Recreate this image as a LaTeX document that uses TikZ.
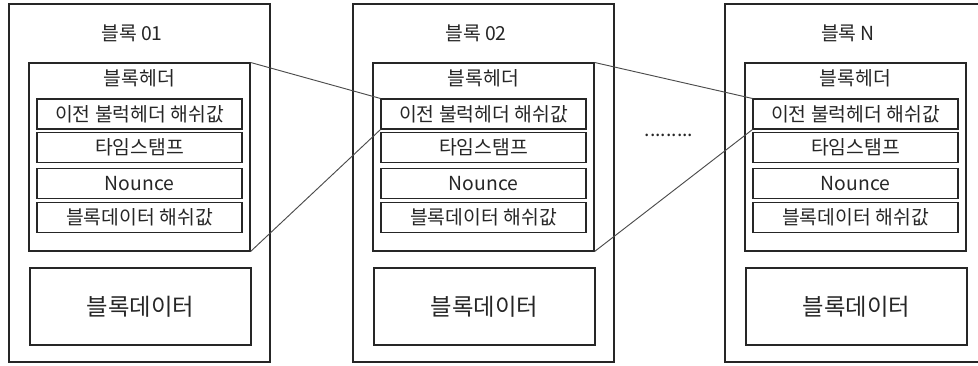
\documentclass[tikz,border=0pt]{standalone}
\usepackage{fontspec}
\setmainfont{Noto Sans CJK KR}
\tikzset{
  boxline/.style={draw=black!85, line width=0.8pt, inner sep=0pt, text=black!85},
  outerbox/.style={boxline, minimum width=195.75pt, minimum height=268.5pt},
  headerbox/.style={boxline, minimum width=165.75pt, minimum height=141pt},
  fieldbox/.style={boxline, minimum width=153.75pt, minimum height=22.5pt, font=\fontsize{14.5pt}{16pt}\selectfont},
  databox/.style={boxline, minimum width=165.75pt, minimum height=57.75pt, font=\fontsize{17.5pt}{19pt}\selectfont},
  lbl/.style={inner sep=0pt, text=black!85, font=\fontsize{14.5pt}{16pt}\selectfont},
  hdrlbl/.style={inner sep=0pt, text=black!85, font=\fontsize{14.5pt}{16pt}\selectfont},
  link/.style={draw=black!70, line width=0.7pt}
}
\newcommand\chainblock[3]{%
  \node[outerbox] (b#1) at (#2+130.5,183) {};
  \node[lbl] (t#1) at (#2+123,33) {#3};
  \node[headerbox] (h#1) at (#2+130.5,157) {};
  \node[hdrlbl] (ht#1) at (#2+130.5,78) {블록헤더};
  \node[fieldbox] (sa#1) at (#2+130.5,114) {이전 불럭헤더 해쉬값};
  \node[fieldbox] (sb#1) at (#2+130.5,147.5) {타임스탬프};
  \node[fieldbox] (sc#1) at (#2+130.5,183.5) {Nounce};
  \node[fieldbox] (sd#1) at (#2+130.5,217.5) {블록데이터 해쉬값};
  \node[databox] (d#1) at (#2+131.5,306.5) {블록데이터};
}
\begin{document}
\begin{tikzpicture}[x=0.75pt,y=-0.75pt]
  \clip (0,0) rectangle (978,365);
  \fill[white] (0,0) rectangle (978,365);
  \chainblock{1}{9}{블록 01}
  \chainblock{2}{353}{블록 02}
  \chainblock{3}{725}{블록 N}
  \node[lbl, anchor=base] (dots) at (669,136) {.........};
  \draw[link] (h1.north east) -- (sa2.north west);
  \draw[link] (h1.south east) -- (sa2.south west);
  \draw[link] (h2.north east) -- (sa3.north west);
  \draw[link] (h2.south east) -- (sa3.south west);
\end{tikzpicture}
\end{document}
